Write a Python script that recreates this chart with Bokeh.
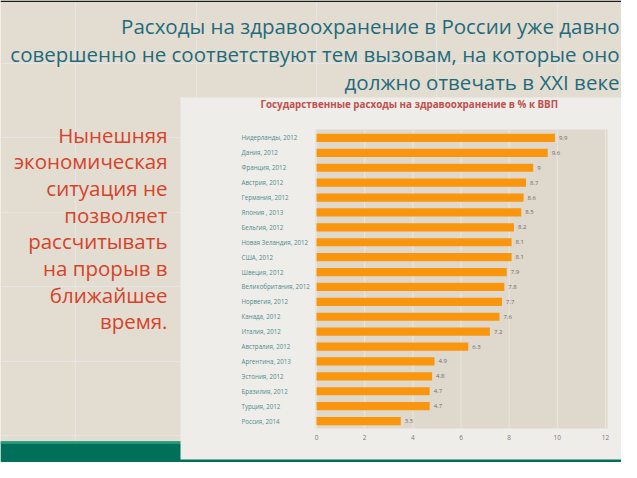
from bokeh.plotting import figure
from bokeh.models import (ColumnDataSource, Range1d, LinearAxis, LabelSet, FixedTicker)
from bokeh.core.properties import value
from bokeh.embed import file_html
from bokeh.resources import INLINE

countries = ["Нидерланды, 2012", "Дания, 2012", "Франция, 2012", "Австрия, 2012",
             "Германия, 2012", "Япония , 2013", "Бельгия,  2012", "Новая Зеландия, 2012",
             "США, 2012", "Швеция, 2012", "Великобритания, 2012", "Норвегия, 2012",
             "Канада, 2012", "Италия, 2012", "Австралия, 2012", "Аргентина, 2013",
             "Эстония, 2012", "Бразилия, 2012", "Турция, 2012", "Россия, 2014"]
values = [9.9, 9.6, 9, 8.7, 8.6, 8.5, 8.2, 8.1, 8.1, 7.9, 7.8, 7.7, 7.6, 7.2, 6.3,
          4.9, 4.8, 4.7, 4.7, 3.5]
value_text = ["9.9", "9.6", "9", "8.7", "8.6", "8.5", "8.2", "8.1", "8.1", "7.9", "7.8",
              "7.7", "7.6", "7.2", "6.3", "4.9", "4.8", "4.7", "4.7", "3.5"]
x_ticks = [0, 2, 4, 6, 8, 10, 12]

heading_lines = ["Расходы на здравоохранение в России уже давно",
                 "совершенно не соответствуют тем вызовам, на которые оно",
                 "должно отвечать в XXI веке"]
side_lines = ["Нынешняя", "экономическая", "ситуация не", "позволяет",
              "рассчитывать", "на прорыв в", "ближайшее", "время."]
chart_title = "Государственные расходы на здравоохранение  в % к ВВП"

FONT = "Open Sans"
W, H = 621, 462
n = len(countries)
rank = list(range(n))

# layout: pixel positions of the plot area
PL, PR, PT, PB = 316, 605, 130, 428
XMAX = x_ticks[-1]
kx = (PR - PL) / XMAX           # px per unit of value
ky = (PB - PT) / n              # px per row

x_range = Range1d(-PL / kx, XMAX + (W - PR) / kx)
y_range = Range1d(-0.5 + (H - PT) / ky, -0.5 - PT / ky)

p = figure(width=W, height=H, output_backend="svg", toolbar_location=None,
           x_range=x_range, y_range=y_range,
           x_axis_location=None, y_axis_location=None,
           min_border=0, min_border_left=0, min_border_right=0,
           min_border_top=0, min_border_bottom=0)
p.border_fill_color = "#e3ddd1"
p.background_fill_color = "#e3ddd1"
p.outline_line_color = None
p.extra_x_ranges = {"px": Range1d(0, W)}
p.extra_y_ranges = {"px": Range1d(H, 0)}

def box(l, r, t, b, color):
    p.quad(left=[l], right=[r], top=[t], bottom=[b], fill_color=color, line_color=None,
           x_range_name="px", y_range_name="px")

box(0, W, 0, 1.5, "#1a1a1a")
box(0, W, 441, H, "#00705a")
box(0, W, 441, 443.5, "#1d9a7a")
box(180, 626, 97, 459, "#eeede9")
box(PL - 1, PR + 2, PT - 1, PB, "#dfd8cc")

# vertical gridlines inside the plot area
p.segment(x0=x_ticks, x1=x_ticks, y0=[-0.5] * len(x_ticks), y1=[n - 0.5] * len(x_ticks),
          line_color="#ebe7e0", line_width=1)

src = ColumnDataSource(dict(c=countries, r=rank, v=values, t=value_text, z=[0] * n))
p.hbar(y="r", right="v", left=0, height=0.55, source=src, fill_color="#f9960e",
       line_color=None)

xa = LinearAxis(ticker=FixedTicker(ticks=x_ticks), fixed_location=n - 0.5)
xa.axis_line_color = None
xa.major_tick_line_color = None
xa.minor_tick_line_color = None
xa.major_label_text_font = FONT
xa.major_label_text_font_size = "6.5px"
xa.major_label_text_color = "#7a7a7a"
xa.major_label_standoff = 0
p.add_layout(xa, "below")

p.add_layout(LabelSet(x="z", y="r", text="c", source=src, x_offset=-75,
                      text_align="left", text_baseline="middle", text_font=value(FONT),
                      text_font_size="6.2px", text_color="#4e8c8e"))
p.add_layout(LabelSet(x="v", y="r", text="t", source=src, x_offset=4,
                      text_align="left", text_baseline="middle", text_font=value(FONT),
                      text_font_size="6px", text_color="#6a6a6a"))

def lab(x, y, texts, size, color, align="left", style="normal"):
    p.text(x=x, y=y, text=texts, x_range_name="px", y_range_name="px",
           text_align=align, text_baseline="middle", text_font=value(FONT),
           text_font_size=size, text_color=color, text_font_style=style)

lab([410], [104], [chart_title], "9.8px", "#c0504d", align="center", style="bold")
lab([619] * 3, [25 + i * 28 for i in range(3)], heading_lines, "20.5px", "#1f6b7b",
    align="right")
lab([167] * len(side_lines), [134 + i * 26.7 for i in range(len(side_lines))], side_lines,
    "20.5px", "#d5432a", align="right")

open("out.html", "w").write(file_html(p, INLINE))
